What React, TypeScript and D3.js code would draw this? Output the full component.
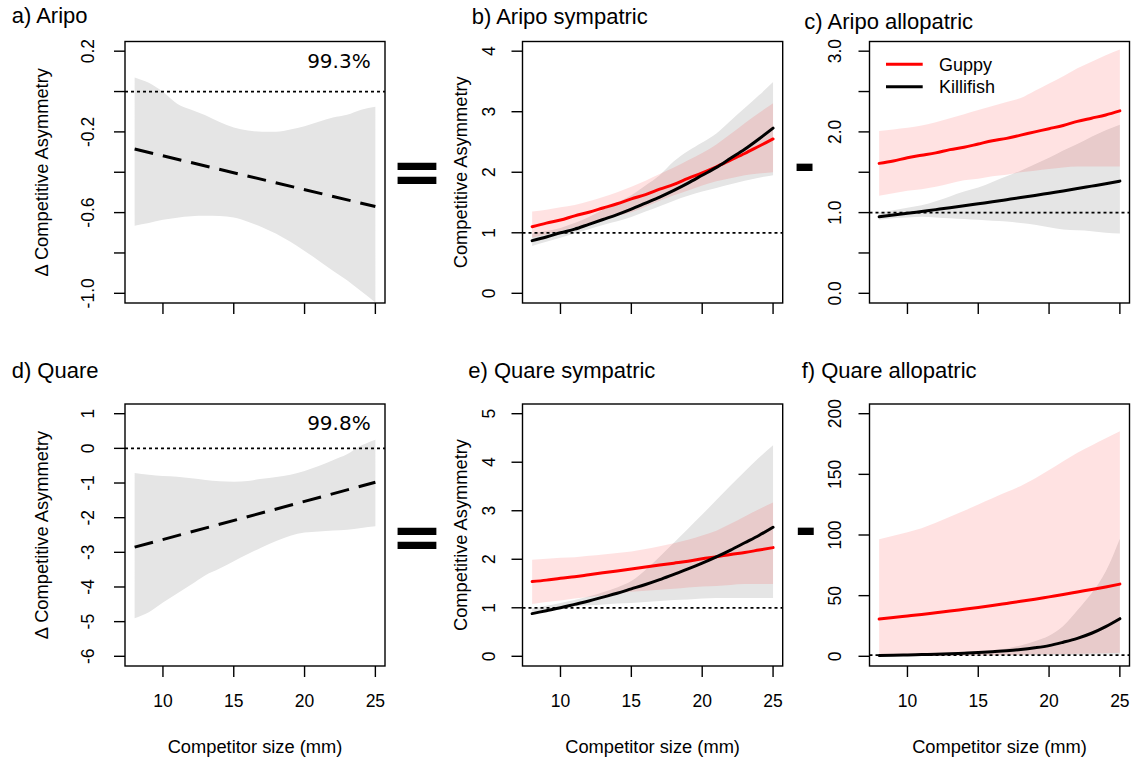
import React from "react";
import * as d3 from "d3";

// competitor sizes (mm) at which curves / intervals were read
const sizes = [8, 9, 10, 11, 12, 13, 14, 15, 16, 17, 18, 19, 20, 21, 22, 23, 24, 25];
const meanEnds = [8, 25];
const xTickValues = [10, 15, 20, 25];

// a) Aripo : difference
const aMean = [-0.285, -0.57];
const aUpper = [0.07, 0.043, -0.002, -0.06, -0.09, -0.117, -0.151, -0.178, -0.193, -0.199, -0.199, -0.188, -0.172, -0.15, -0.129, -0.115, -0.09, -0.075];
const aLower = [-0.665, -0.652, -0.636, -0.625, -0.618, -0.616, -0.617, -0.624, -0.645, -0.672, -0.705, -0.745, -0.79, -0.838, -0.888, -0.935, -0.99, -1.045];

// b) Aripo sympatric
const bGuppy = [1.1, 1.16, 1.21, 1.28, 1.34, 1.41, 1.48, 1.56, 1.63, 1.72, 1.8, 1.9, 1.99, 2.09, 2.2, 2.31, 2.43, 2.55];
const bGuppyUp = [1.35, 1.38, 1.42, 1.46, 1.52, 1.59, 1.67, 1.76, 1.86, 1.97, 2.08, 2.2, 2.32, 2.46, 2.63, 2.81, 2.98, 3.14];
const bGuppyLo = [0.92, 0.97, 1.03, 1.09, 1.15, 1.21, 1.28, 1.34, 1.43, 1.53, 1.62, 1.7, 1.78, 1.85, 1.9, 1.95, 1.98, 2.0];
const bKilli = [0.87, 0.93, 1.0, 1.06, 1.14, 1.22, 1.3, 1.39, 1.49, 1.59, 1.7, 1.82, 1.95, 2.08, 2.23, 2.38, 2.55, 2.73];
const bKilliUp = [0.99, 1.03, 1.08, 1.16, 1.26, 1.38, 1.5, 1.62, 1.78, 1.95, 2.18, 2.35, 2.49, 2.64, 2.85, 3.06, 3.27, 3.49];
const bKilliLo = [0.78, 0.85, 0.92, 0.99, 1.06, 1.13, 1.19, 1.26, 1.35, 1.44, 1.53, 1.61, 1.68, 1.74, 1.8, 1.86, 1.91, 1.95];

// c) Aripo allopatric
const cGuppy = [1.61, 1.64, 1.68, 1.71, 1.74, 1.78, 1.81, 1.85, 1.89, 1.92, 1.96, 2.0, 2.04, 2.08, 2.13, 2.17, 2.21, 2.26];
const cGuppyUp = [2.01, 2.03, 2.05, 2.08, 2.12, 2.17, 2.22, 2.27, 2.32, 2.37, 2.42, 2.51, 2.6, 2.69, 2.79, 2.87, 2.95, 3.02];
const cGuppyLo = [1.21, 1.24, 1.27, 1.29, 1.32, 1.36, 1.4, 1.42, 1.45, 1.47, 1.5, 1.52, 1.54, 1.56, 1.57, 1.57, 1.57, 1.57];
const cKilli = [0.948, 0.969, 0.991, 1.014, 1.037, 1.06, 1.084, 1.109, 1.134, 1.16, 1.186, 1.213, 1.241, 1.269, 1.298, 1.328, 1.358, 1.39];
const cKilliUp = [1.0, 1.03, 1.06, 1.09, 1.14, 1.2, 1.26, 1.31, 1.38, 1.45, 1.52, 1.6, 1.68, 1.77, 1.85, 1.94, 2.02, 2.09];
const cKilliLo = [0.91, 0.93, 0.94, 0.95, 0.94, 0.93, 0.92, 0.91, 0.9, 0.89, 0.87, 0.85, 0.82, 0.79, 0.78, 0.77, 0.75, 0.74];

// d) Quare : difference
const dMean = [-2.85, -0.98];
const dUpper = [-0.71, -0.76, -0.8, -0.82, -0.86, -0.91, -0.95, -0.96, -0.94, -0.88, -0.83, -0.76, -0.65, -0.51, -0.34, -0.17, 0.08, 0.25];
const dLower = [-4.9, -4.73, -4.45, -4.19, -3.93, -3.66, -3.47, -3.26, -3.05, -2.85, -2.67, -2.52, -2.43, -2.4, -2.37, -2.35, -2.3, -2.25];

// e) Quare sympatric
const eGuppy = [1.54, 1.57, 1.61, 1.64, 1.68, 1.72, 1.76, 1.8, 1.84, 1.88, 1.92, 1.96, 2.01, 2.05, 2.1, 2.14, 2.19, 2.24];
const eGuppyUp = [1.99, 2.01, 2.03, 2.04, 2.07, 2.1, 2.13, 2.16, 2.21, 2.27, 2.33, 2.4, 2.49, 2.59, 2.73, 2.88, 3.03, 3.17];
const eGuppyLo = [1.08, 1.12, 1.15, 1.19, 1.22, 1.26, 1.29, 1.33, 1.35, 1.37, 1.39, 1.42, 1.44, 1.45, 1.47, 1.49, 1.49, 1.49];
const eKilli = [0.88, 0.94, 1.0, 1.07, 1.14, 1.22, 1.3, 1.39, 1.48, 1.58, 1.69, 1.8, 1.92, 2.05, 2.19, 2.34, 2.49, 2.66];
const eKilliUp = [0.99, 1.04, 1.1, 1.16, 1.23, 1.32, 1.42, 1.55, 1.78, 2.05, 2.34, 2.63, 2.92, 3.22, 3.52, 3.81, 4.09, 4.35];
const eKilliLo = [0.92, 0.96, 1.0, 1.03, 1.05, 1.07, 1.09, 1.1, 1.12, 1.14, 1.16, 1.17, 1.19, 1.2, 1.2, 1.2, 1.2, 1.2];

// f) Quare allopatric
const fGuppy = [30.7, 31.9, 33.2, 34.5, 35.9, 37.3, 38.8, 40.3, 41.9, 43.6, 45.3, 47.1, 49.0, 50.9, 53.0, 55.1, 57.2, 59.5];
const fGuppyUp = [96.5, 99.3, 102.2, 105.5, 110, 115, 120, 125.2, 130.3, 135.4, 140.5, 146.5, 153.5, 160.8, 167.8, 173.8, 179.7, 185.5];
const fGuppyLo = [0.3, 0.3, 0.4, 0.4, 0.5, 0.6, 0.7, 0.8, 0.9, 1.0, 1.2, 1.4, 1.6, 1.8, 2.0, 2.3, 2.6, 2.9];
const fKilli = [0.7, 0.9, 1.1, 1.4, 1.7, 2.1, 2.6, 3.1, 3.8, 4.6, 5.6, 7.0, 8.8, 11.6, 14.8, 19.0, 24.5, 31.0];
const fKilliUp = [0.9, 1.1, 1.4, 1.7, 2.1, 2.6, 3.2, 4.0, 5.0, 6.5, 9.0, 12.5, 17.0, 25.0, 38.0, 52.0, 70.0, 97.0];
const fKilliLo = [0.4, 0.4, 0.4, 0.4, 0.5, 0.5, 0.5, 0.6, 0.6, 0.7, 0.7, 0.8, 0.9, 1.0, 1.1, 1.2, 1.4, 1.5];

const legendNames = ["Guppy", "Killifish"];

const RED = "#ff0000";
const GREY = "#e5e5e5";
const PINK = "rgba(255,0,0,0.115)";
const SANS = "'Liberation Sans', Arial, Helvetica, sans-serif";
const X_DOMAIN: [number, number] = [7.32, 25.68];

const TOP = { y0: 41.5, y1: 303 };
const BOT = { y0: 404, y1: 666 };
const COL = [
  { x0: 125, x1: 385, labelX: 93.5, titleX: 48.3 },
  { x0: 522.5, x1: 782.7, labelX: 495, titleX: 467.3 },
  { x0: 869.5, x1: 1129.5, labelX: 840.5, titleX: 0 },
];

const fmt1 = d3.format(".1f");
const fmt0 = d3.format("d");
const fmtNeg = (v: number) => fmt0(v).replace("\u2212", "-");
const fmtNeg1 = (v: number) => fmt1(v).replace("\u2212", "-");

const panels = [
  {
    title: "a) Aripo", tx: 11.7, ty: 23.3, col: COL[0], row: TOP, yDomain: [-1.048, 0.248],
    ticks: d3.range(-1.0, 0.21, 0.2), labels: [0.2, -0.2, -0.6, -1.0], fmt: fmtNeg1, ref: 0,
    bands: [{ up: aUpper, lo: aLower, fill: GREY }], lines: [], mean: aMean,
    yTitle: "\u0394 Competitive Asymmetry", pct: "99.3%", pctY: 68.3, xAxisText: false,
  },
  {
    title: "b) Aripo sympatric", tx: 471.7, ty: 24, col: COL[1], row: TOP, yDomain: [-0.16, 4.16],
    ticks: [0, 1, 2, 3, 4], labels: [0, 1, 2, 3, 4], fmt: fmtNeg, ref: 1,
    bands: [{ up: bKilliUp, lo: bKilliLo, fill: GREY }, { up: bGuppyUp, lo: bGuppyLo, fill: PINK }],
    lines: [{ v: bGuppy, c: RED }, { v: bKilli, c: "#000" }],
    yTitle: "Competitive Asymmetry", xAxisText: false,
  },
  {
    title: "c) Aripo allopatric", tx: 804.3, ty: 29.3, col: COL[2], row: TOP, yDomain: [-0.12, 3.12],
    ticks: [0, 0.5, 1, 1.5, 2, 2.5, 3], labels: [0, 1, 2, 3], fmt: fmt1, ref: 1,
    bands: [{ up: cKilliUp, lo: cKilliLo, fill: GREY }, { up: cGuppyUp, lo: cGuppyLo, fill: PINK }],
    lines: [{ v: cGuppy, c: RED }, { v: cKilli, c: "#000" }],
    legend: true, xAxisText: false,
  },
  {
    title: "d) Quare", tx: 11.7, ty: 378.3, col: COL[0], row: BOT, yDomain: [-6.28, 1.28],
    ticks: d3.range(-6, 2), labels: d3.range(-6, 2), fmt: fmtNeg, ref: 0,
    bands: [{ up: dUpper, lo: dLower, fill: GREY }], lines: [], mean: dMean,
    yTitle: "\u0394 Competitive Asymmetry", pct: "99.8%", pctY: 430, xAxisText: true,
  },
  {
    title: "e) Quare sympatric", tx: 468.3, ty: 378.3, col: COL[1], row: BOT, yDomain: [-0.2, 5.2],
    ticks: [0, 1, 2, 3, 4, 5], labels: [0, 1, 2, 3, 4, 5], fmt: fmtNeg, ref: 1,
    bands: [{ up: eKilliUp, lo: eKilliLo, fill: GREY }, { up: eGuppyUp, lo: eGuppyLo, fill: PINK }],
    lines: [{ v: eGuppy, c: RED }, { v: eKilli, c: "#000" }],
    yTitle: "Competitive Asymmetry", xAxisText: true,
  },
  {
    title: "f) Quare allopatric", tx: 801.7, ty: 378.3, col: COL[2], row: BOT, yDomain: [-8, 208],
    ticks: [0, 50, 100, 150, 200], labels: [0, 50, 100, 150, 200], fmt: fmtNeg, ref: 1,
    bands: [{ up: fKilliUp, lo: fKilliLo, fill: GREY }, { up: fGuppyUp, lo: fGuppyLo, fill: PINK }],
    lines: [{ v: fGuppy, c: RED }, { v: fKilli, c: "#000" }],
    xAxisText: true,
  },
];

function Panel({ p, idx }: { p: any; idx: number }) {
  const { x0, x1, labelX, titleX } = p.col;
  const { y0, y1 } = p.row;
  const x = d3.scaleLinear().domain(X_DOMAIN).range([x0, x1]);
  const y = d3.scaleLinear().domain(p.yDomain).range([y1, y0]);
  const area = (b: any) =>
    d3.area<number>()
      .x((_, i) => x(sizes[i]))
      .y0((_, i) => y(b.lo[i]))
      .y1((_, i) => y(b.up[i]))
      .curve(d3.curveMonotoneX)(sizes);
  const line = d3.line<number>()
    .x((_, i) => x(sizes[i]))
    .y((d) => y(d))
    .curve(d3.curveMonotoneX);
  const meanLine = d3.line<number>().x((_, i) => x(meanEnds[i])).y((d) => y(d));
  const cy = (y0 + y1) / 2;
  const clipId = `clip-${idx}`;

  return (
    <g>
      <defs>
        <clipPath id={clipId}>
          <rect x={x0} y={y0} width={x1 - x0} height={y1 - y0} />
        </clipPath>
      </defs>
      <g clipPath={`url(#${clipId})`}>
        {p.bands.map((b: any, i: number) => (
          <path key={i} d={area(b) || ""} fill={b.fill} stroke="none" />
        ))}
        <line x1={x0} x2={x1} y1={y(p.ref)} y2={y(p.ref)} stroke="#000" strokeWidth={1.8} strokeDasharray="3,3" />
        {p.lines.map((l: any, i: number) => (
          <path key={i} d={line(l.v) || ""} fill="none" stroke={l.c} strokeWidth={3} strokeLinecap="round" />
        ))}
        {p.mean && (
          <path d={meanLine(p.mean) || ""} fill="none" stroke="#000" strokeWidth={3} strokeDasharray="19,10" />
        )}
      </g>
      <rect x={x0} y={y0} width={x1 - x0} height={y1 - y0} fill="none" stroke="#000" strokeWidth={1.4} />

      {/* x axis */}
      {xTickValues.map((t) => (
        <g key={t}>
          <line x1={x(t)} x2={x(t)} y1={y1} y2={y1 + 11} stroke="#000" strokeWidth={1.4} />
          {p.xAxisText && (
            <text x={x(t)} y={707} textAnchor="middle" fontSize={17.5} fontFamily={SANS}>{t}</text>
          )}
        </g>
      ))}
      {p.xAxisText && (
        <text x={(x0 + x1) / 2} y={753} textAnchor="middle" fontSize={18.3} fontFamily={SANS}>
          Competitor size (mm)
        </text>
      )}

      {/* y axis */}
      {p.ticks.map((t: number) => (
        <line key={t} x1={x0 - 11} x2={x0} y1={y(t)} y2={y(t)} stroke="#000" strokeWidth={1.4} />
      ))}
      {p.labels.map((t: number) => (
        <text key={t} transform={`translate(${labelX},${y(t)}) rotate(-90)`} textAnchor="middle"
          fontSize={17.5} fontFamily={SANS}>{p.fmt(t)}</text>
      ))}
      {p.yTitle && (
        <text transform={`translate(${titleX},${cy}) rotate(-90)`} textAnchor="middle" fontSize={18.3} fontFamily={SANS}>
          {p.yTitle}
        </text>
      )}

      <text x={p.tx} y={p.ty} fontSize={22} fontFamily={SANS}>{p.title}</text>

      {p.pct && (
        <text x={370.7} y={p.pctY} textAnchor="end" fontSize={20} fontFamily="'DejaVu Sans', sans-serif">{p.pct}</text>
      )}

      {p.legend && legendNames.map((n, i) => (
        <g key={n}>
          <line x1={886} x2={922.7} y1={64.3 + i * 22.4} y2={64.3 + i * 22.4} stroke={i === 0 ? RED : "#000"} strokeWidth={3} />
          <text x={939} y={71 + i * 22.4} fontSize={18} fontFamily={SANS}>{n}</text>
        </g>
      ))}
    </g>
  );
}

export default function App() {
  return (
    <svg width={1135} height={763} style={{ position: "absolute", left: 0, top: 0, background: "#fff" }}>
      <rect width={1135} height={763} fill="#fff" />
      {panels.map((p, i) => (
        <Panel key={i} p={p} idx={i} />
      ))}
      {/* operators between panels */}
      {[192.7, 557.7].map((b) => (
        <text key={`eq${b}`} x={417} y={b} textAnchor="middle" fontSize={62} fontWeight="bold"
          fontFamily="'DejaVu Sans', sans-serif">=</text>
      ))}
      {[182, 546].map((b, i) => (
        <text key={`mn${b}`} x={804.5 + i * 1.2} y={b} textAnchor="middle" fontSize={52} fontWeight="bold"
          fontFamily="'DejaVu Sans', sans-serif">-</text>
      ))}
    </svg>
  );
}
